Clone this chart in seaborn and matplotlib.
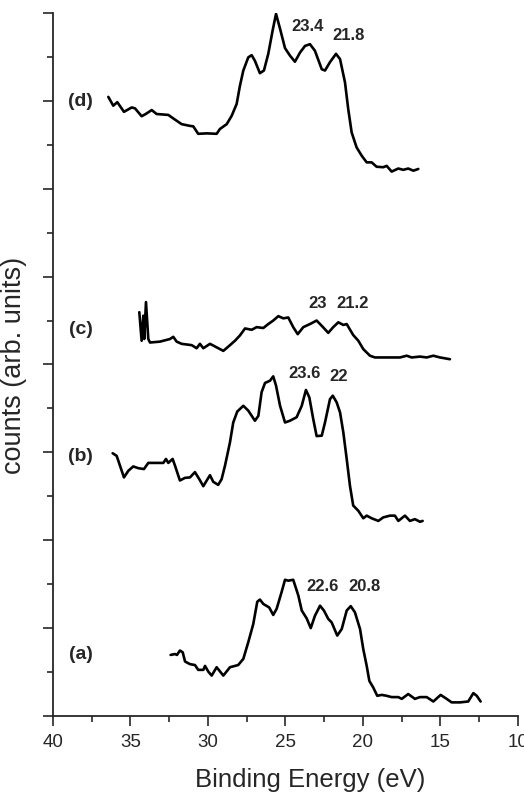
import numpy as np
import pandas as pd
import matplotlib
matplotlib.use("Agg")
import matplotlib.pyplot as plt
import seaborn as sns
from matplotlib.ticker import MultipleLocator

# Espectros (energia de enlace en eV, cuentas en unidades arbitrarias)
energy_a = [32.41, 32.13, 32.00, 31.81, 31.63, 31.48, 31.16, 30.84, 30.63, 30.30, 30.19, 29.98,
            29.76, 29.44, 29.01, 28.58, 28.05, 27.72, 27.40, 27.08, 26.82, 26.65, 26.43, 26.05,
            25.79, 25.57, 25.25, 25.03, 24.82, 24.50, 24.17, 23.95, 23.63, 23.37, 23.10, 22.77,
            22.52, 22.24, 22.02, 21.66, 21.37, 21.05, 20.79, 20.52, 20.19, 19.98, 19.76, 19.59,
            19.34, 19.08, 18.79, 18.47, 18.15, 17.72, 17.50, 17.08, 16.65, 16.32, 15.89, 15.46,
            14.99, 14.60, 14.28, 13.74, 13.21, 12.88, 12.66, 12.41]
counts_a = [1.39, 1.41, 1.39, 1.49, 1.45, 1.24, 1.18, 1.16, 1.05, 1.05, 1.14, 1.01,
            0.92, 1.11, 0.92, 1.11, 1.16, 1.30, 1.68, 2.09, 2.60, 2.65, 2.55, 2.47,
            2.30, 2.44, 2.82, 3.10, 3.08, 3.10, 2.74, 2.40, 2.22, 2.00, 2.28, 2.51,
            2.40, 2.21, 2.13, 1.83, 1.98, 2.40, 2.50, 2.36, 1.98, 1.52, 1.14, 0.80,
            0.65, 0.46, 0.48, 0.46, 0.43, 0.43, 0.39, 0.50, 0.39, 0.43, 0.43, 0.33,
            0.48, 0.39, 0.31, 0.31, 0.33, 0.52, 0.46, 0.33]

energy_b = [36.15, 35.89, 35.68, 35.42, 35.14, 34.82, 34.50, 34.13, 33.85, 33.31, 32.88, 32.71,
            32.56, 32.28, 32.13, 31.81, 31.48, 31.16, 30.84, 30.56, 30.30, 30.08, 29.87, 29.66,
            29.34, 29.12, 28.90, 28.58, 28.37, 28.11, 27.72, 27.40, 26.97, 26.75, 26.54, 26.32,
            26.00, 25.79, 25.61, 25.35, 25.03, 24.71, 24.28, 23.95, 23.68, 23.46, 23.21, 22.99,
            22.66, 22.45, 22.13, 21.95, 21.70, 21.48, 21.27, 21.05, 20.84, 20.63, 20.30, 19.98,
            19.76, 19.44, 19.01, 18.69, 18.26, 17.94, 17.72, 17.29, 16.97, 16.65, 16.32, 16.15]
counts_b = [5.98, 5.92, 5.70, 5.43, 5.58, 5.68, 5.64, 5.62, 5.76, 5.76, 5.76, 5.85,
            5.76, 5.85, 5.70, 5.36, 5.42, 5.43, 5.55, 5.39, 5.23, 5.36, 5.48, 5.33,
            5.26, 5.39, 5.70, 6.23, 6.68, 6.93, 7.06, 6.95, 6.72, 6.83, 7.37, 7.58,
            7.63, 7.73, 7.52, 7.06, 6.68, 6.72, 6.80, 7.06, 7.42, 7.25, 6.76, 6.37,
            6.38, 6.68, 7.21, 7.29, 7.14, 6.91, 6.46, 5.85, 5.24, 4.79, 4.67, 4.50,
            4.56, 4.50, 4.44, 4.52, 4.56, 4.56, 4.44, 4.56, 4.44, 4.48, 4.42, 4.44]

energy_c = [34.43, 34.28, 34.17, 34.11, 34.00, 33.85, 33.74, 33.10, 32.45, 32.24, 32.02, 31.70,
            31.05, 30.73, 30.52, 30.30, 29.87, 29.44, 29.01, 28.58, 28.26, 27.94, 27.61, 27.18,
            26.86, 26.43, 26.11, 25.79, 25.46, 25.14, 24.82, 24.50, 24.21, 23.85, 23.42, 22.99,
            22.66, 22.24, 21.92, 21.59, 21.27, 21.05, 20.63, 20.30, 19.98, 19.55, 19.23, 18.69,
            17.61, 17.18, 16.86, 16.32, 15.89, 15.46, 15.03, 14.39]
counts_c = [9.19, 8.54, 9.11, 8.58, 9.42, 8.58, 8.50, 8.52, 8.58, 8.63, 8.52, 8.47,
            8.44, 8.37, 8.47, 8.37, 8.47, 8.39, 8.31, 8.44, 8.54, 8.66, 8.82, 8.79,
            8.85, 8.83, 8.92, 9.00, 9.10, 9.05, 9.07, 8.85, 8.69, 8.85, 8.92, 9.00,
            8.88, 8.72, 8.85, 8.96, 8.90, 8.92, 8.67, 8.54, 8.35, 8.20, 8.16, 8.16,
            8.16, 8.20, 8.16, 8.18, 8.16, 8.20, 8.16, 8.12]

energy_d = [36.43, 36.11, 35.85, 35.42, 34.92, 34.71, 34.28, 34.02, 33.63, 33.31, 32.56, 32.24,
            31.70, 31.16, 30.95, 30.63, 30.08, 29.44, 29.23, 28.79, 28.47, 28.15, 27.94, 27.72,
            27.40, 27.18, 26.97, 26.65, 26.39, 26.11, 25.83, 25.61, 25.35, 25.03, 24.71, 24.39,
            24.06, 23.74, 23.42, 23.10, 22.66, 22.45, 22.13, 21.74, 21.48, 21.16, 20.95, 20.73,
            20.41, 20.08, 19.76, 19.44, 19.12, 18.69, 18.47, 18.15, 17.72, 17.40, 17.08, 16.75,
            16.43]
counts_d = [14.09, 13.89, 13.97, 13.75, 13.85, 13.83, 13.65, 13.70, 13.79, 13.70, 13.68, 13.60,
            13.47, 13.43, 13.42, 13.25, 13.26, 13.25, 13.36, 13.47, 13.66, 13.93, 14.34, 14.69,
            14.99, 15.04, 14.91, 14.63, 14.69, 15.07, 15.60, 15.98, 15.64, 15.20, 15.03, 14.89,
            15.10, 15.25, 15.29, 15.14, 14.72, 14.69, 14.88, 15.07, 14.95, 14.42, 13.81, 13.28,
            12.94, 12.75, 12.60, 12.60, 12.50, 12.49, 12.52, 12.39, 12.46, 12.43, 12.46, 12.41,
            12.45]

panel_labels = ["(a)", "(b)", "(c)", "(d)"]
panel_label_y = [1.43, 5.92, 8.81, 14.0]
peak_texts = ["22.6", "20.8", "23.6", "22", "23", "21.2", "23.4", "21.8"]
peak_x = [22.60, 19.87, 23.74, 21.59, 22.95, 20.66, 23.59, 20.95]
peak_y = [2.98, 2.98, 7.82, 7.74, 9.41, 9.41, 15.71, 15.52]

sns.set_style("ticks")
plt.rcParams["font.family"] = ["Liberation Sans", "DejaVu Sans"]

fig = plt.figure(figsize=(5.24, 8.03), dpi=100)
ax = fig.add_axes([0.1011, 0.1071, 0.8874, 0.8755])

curves = [(energy_a, counts_a), (energy_b, counts_b), (energy_c, counts_c), (energy_d, counts_d)]
for e, c in curves:
    df = pd.DataFrame({"E": e, "counts": c})
    sns.lineplot(data=df, x="E", y="counts", ax=ax, color="black", linewidth=1.9,
                 sort=False, estimator=None)

ax.set_xlim(40, 10)
ax.set_ylim(0, 16)
ax.xaxis.set_major_locator(MultipleLocator(5))
ax.xaxis.set_minor_locator(MultipleLocator(2.5))
ax.yaxis.set_major_locator(MultipleLocator(2))
ax.yaxis.set_minor_locator(MultipleLocator(1))
ax.set_yticklabels([])
ax.tick_params(axis="both", which="major", length=7, width=1.2, direction="out")
ax.tick_params(axis="both", which="minor", length=4, width=1.2, direction="out")
ax.tick_params(axis="x", labelsize=13.5, pad=5)
sns.despine(ax=ax)
for s in ["left", "bottom"]:
    ax.spines[s].set_linewidth(1.3)

ax.set_xlabel("Binding Energy (eV)", fontsize=18.5)
ax.set_ylabel("counts (arb. units)", fontsize=19.5)
ax.xaxis.set_label_coords(0.553, -0.072)
ax.yaxis.set_label_coords(-0.055, 0.5)

for lab, yy in zip(panel_labels, panel_label_y):
    ax.text(38.2, yy, lab, fontsize=14, fontweight="bold", ha="center", va="center")
for t, xx, yy in zip(peak_texts, peak_x, peak_y):
    ax.text(xx, yy, t, fontsize=12, fontweight="bold", ha="center", va="center")

fig.savefig("out.png", dpi=100)
